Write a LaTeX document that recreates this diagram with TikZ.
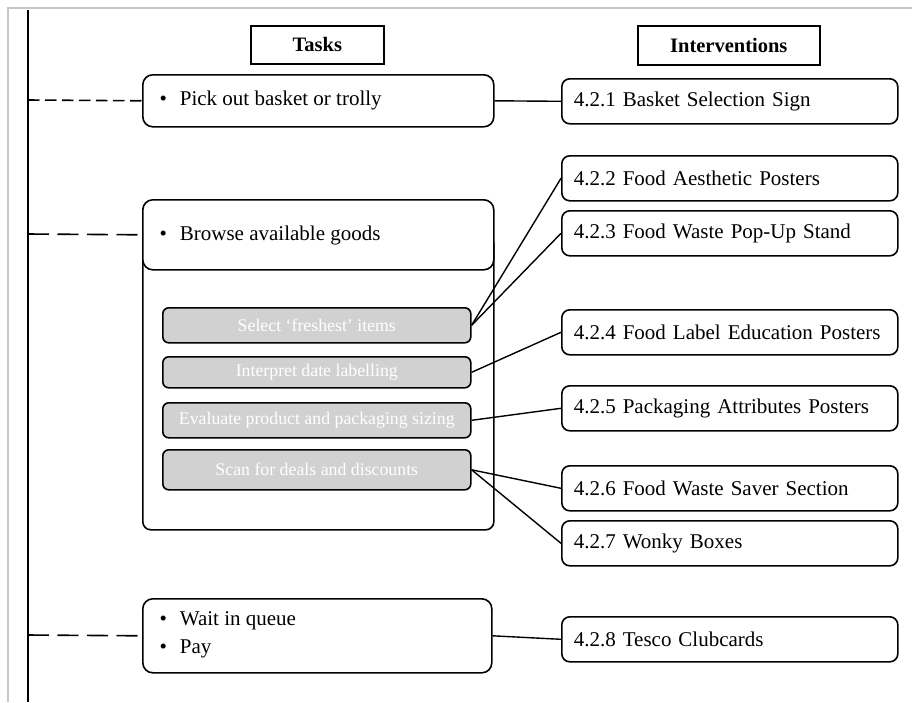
\documentclass[tikz,border=0pt]{standalone}
\usepackage{fontspec}
\setmainfont{Liberation Serif}
\begin{document}
\begin{tikzpicture}[x=1pt,y=-1pt,
  header/.style={draw,line width=1.6pt,anchor=north west,inner sep=0pt,font=\fontsize{20.5}{24}\selectfont\bfseries},
  taskbox/.style={draw,line width=1.6pt,rounded corners=10pt,fill=white,anchor=north west,inner sep=0pt},
  tasktext/.style={anchor=west,align=left,font=\fontsize{21}{28}\selectfont},
  grey/.style={draw,line width=1.6pt,rounded corners=6pt,fill=black!18,anchor=north west,inner sep=0pt,
    text=white,font=\fontsize{17.8}{20}\selectfont},
  ivbox/.style={draw,line width=1.6pt,rounded corners=8pt,anchor=north west,inner sep=0pt,
    font=\fontsize{21}{24}\selectfont},
  link/.style={line width=1.4pt},
  dashlink/.style={line width=1.6pt,dash pattern=on 21pt off 8.5pt},
  shortdash/.style={line width=1.6pt,dash pattern=on 11.5pt off 5.5pt},
]
\useasboundingbox (0,0) rectangle (912,702);
% page frame and time line
\draw[black!22,line width=1.2pt] (8,702) -- (8,8) -- (912,8);
\coordinate (lineTop) at (28,10);
\coordinate (lineBot) at (28,702);
\draw[line width=1.6pt] (lineTop) -- (lineBot);

% column headers
\node[header,minimum width=133pt,minimum height=38pt] (hTasks) at (250,25) {Tasks};
\node[header,minimum width=182pt,minimum height=39pt] (hInt) at (637,25) {Interventions};

% tasks
\node[taskbox,minimum width=351pt,minimum height=52pt] (tPick) at (142,74) {};
\node[tasktext] (tPickTxt) at (156,100) {\textbullet\hspace{13pt}Pick out basket or trolly};

\node[taskbox,minimum width=351pt,minimum height=294pt,rounded corners=8pt] (tBrowseAll) at (142,235) {};
\node[taskbox,minimum width=351pt,minimum height=70pt] (tBrowse) at (142,199) {};
\node[tasktext] (tBrowseTxt) at (156,235) {\textbullet\hspace{13pt}Browse available goods};

\node[grey,minimum width=308pt,minimum height=35pt] (gFresh) at (162,307) {Select ‘freshest’ items};
\node[grey,minimum width=308pt,minimum height=31pt] (gDate) at (162,356) {Interpret date labelling};
\node[grey,minimum width=308pt,minimum height=35pt] (gSize) at (162,402) {Evaluate product and packaging sizing};
\node[grey,minimum width=308pt,minimum height=40pt] (gDeal) at (162,449) {Scan for deals and discounts};

\node[taskbox,minimum width=349pt,minimum height=74pt] (tPay) at (142,598) {};
\node[tasktext] (tPayTxt) at (156,635)
  {\textbullet\hspace{13pt}Wait in queue\\\textbullet\hspace{13pt}Pay};

% interventions
\foreach \name/\y/\txt in {i1/78/4.2.1 Basket Selection Sign,
                           i2/155/4.2.2 Food Aesthetic Posters,
                           i3/210/4.2.3 Food Waste Pop-Up Stand,
                           i4/309/4.2.4 Food Label Education Posters,
                           i5/385/4.2.5 Packaging Attributes Posters,
                           i6/465/4.2.6 Food Waste Saver Section,
                           i7/520/4.2.7 Wonky Boxes,
                           i8/616/4.2.8 Tesco Clubcards}
  \node[ivbox,minimum width=336pt,minimum height=45pt,text width=312pt,align=left,inner xsep=12pt] (\name) at (561,\y) {\txt};

% task to time line
\coordinate (dPick) at (28,100);
\coordinate (dBrowse) at (28,234);
\coordinate (dPay) at (28,635);
\draw[shortdash] (dPick) -- (tPick.west);
\draw[dashlink] (dBrowse) -- (tBrowse.west);
\draw[dashlink] (dPay) -- (tPay.west);

% task to intervention
\draw[link] (tPick.east) -- (i1.west);
\draw[link] (gFresh.east) -- (i2.west);
\draw[link] (gFresh.east) -- (i3.west);
\draw[link] (gDate.east) -- (i4.west);
\draw[link] (gSize.east) -- (i5.west);
\draw[link] (gDeal.east) -- (i6.west);
\draw[link] (gDeal.east) -- (i7.west);
\draw[link] (tPay.east) -- (i8.west);
\end{tikzpicture}
\end{document}
